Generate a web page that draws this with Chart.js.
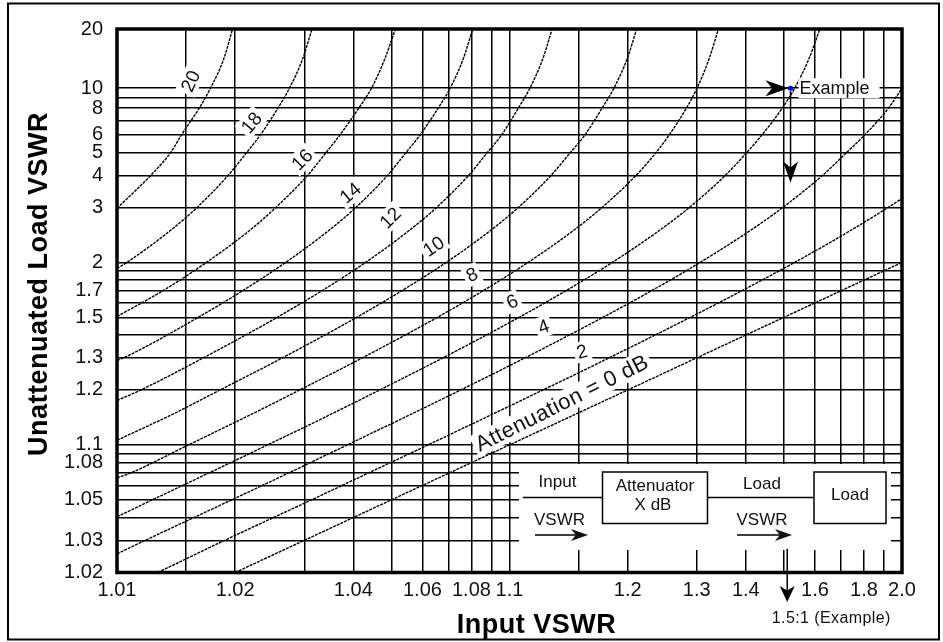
<!DOCTYPE html>
<html>
<head>
<meta charset="utf-8">
<title>Input VSWR vs Unattenuated Load VSWR</title>
<script src="https://cdn.jsdelivr.net/npm/chart.js@4.4.1/dist/chart.umd.min.js"></script>
<style>
html, body { margin: 0; padding: 0; background: #ffffff; }
canvas { display: block; }
</style>
</head>
<body>
<canvas id="chart" width="943" height="642"></canvas>
<script>
// ---------- axis grid values and tick labels (VSWR) ----------
const inputVswrGrid = [1.01, 1.015, 1.02, 1.03, 1.04, 1.05, 1.06, 1.07, 1.08, 1.09, 1.1, 1.15, 1.2, 1.3, 1.4, 1.5, 1.6, 1.7, 1.8, 1.9, 2.0];
const inputVswrTickLabels = ['1.01', '1.02', '1.04', '1.06', '1.08', '1.1', '1.2', '1.3', '1.4', '1.6', '1.8', '2.0'];
const loadVswrGrid = [1.02, 1.03, 1.04, 1.05, 1.06, 1.07, 1.08, 1.09, 1.1, 1.2, 1.3, 1.4, 1.5, 1.6, 1.7, 1.8, 1.9, 2, 3, 4, 5, 6, 7, 8, 9, 10, 20];
const loadVswrTickLabels = ['1.02', '1.03', '1.05', '1.08', '1.1', '1.2', '1.3', '1.5', '1.7', '2', '3', '4', '5', '6', '8', '10', '20'];

// ---------- constant-attenuation curves ----------
const attenuationDb = [0, 2, 4, 6, 8, 10, 12, 14, 16, 18, 20];

const atten0Input = [1.02, 1.05, 1.1, 1.2, 1.5, 2.0];
const atten0Load  = [1.02, 1.05, 1.1, 1.2, 1.5, 2.0];

const atten2Input = [1.0127, 1.0188, 1.0313, 1.0436, 1.0620, 1.0921, 1.1217, 1.1794, 1.2888, 1.3911, 1.5327, 1.7413, 1.9218, 2.0];
const atten2Load  = [1.02, 1.03, 1.05, 1.07, 1.1, 1.15, 1.2, 1.3, 1.5, 1.7, 2.0, 2.5, 3.0, 3.24];

const atten4Input = [1.0100, 1.0118, 1.0196, 1.0273, 1.0386, 1.0571, 1.0751, 1.1095, 1.1730, 1.2302, 1.3060, 1.4115, 1.4970, 1.6277, 1.7227, 1.8040, 1.9236, 2.0];
const atten4Load  = [1.0253, 1.03, 1.05, 1.07, 1.1, 1.15, 1.2, 1.3, 1.5, 1.7, 2.0, 2.5, 3.0, 4.0, 5.0, 6.0, 8.0, 10.0];

const atten6Input = [1.0100, 1.0123, 1.0171, 1.0242, 1.0357, 1.0467, 1.0677, 1.1058, 1.1393, 1.1828, 1.2413, 1.2873, 1.3549, 1.4023, 1.4400, 1.4953, 1.5328, 1.5789, 1.6177];
const atten6Load  = [1.0404, 1.05, 1.07, 1.1, 1.15, 1.2, 1.3, 1.5, 1.7, 2.0, 2.5, 3.0, 4.0, 5.0, 6.0, 8.0, 10.0, 14.0, 20.0];

const atten8Input = [1.0100, 1.0108, 1.0152, 1.0224, 1.0292, 1.0422, 1.0655, 1.0857, 1.1115, 1.1458, 1.1721, 1.2102, 1.2363, 1.2553, 1.2823, 1.3004, 1.3223, 1.3407];
const atten8Load  = [1.066, 1.07, 1.1, 1.15, 1.2, 1.3, 1.5, 1.7, 2.0, 2.5, 3.0, 4.0, 5.0, 6.0, 8.0, 10.0, 14.0, 20.0];

const atten10Input = [1.0100, 1.0141, 1.0183, 1.0264, 1.0408, 1.0532, 1.0690, 1.0896, 1.1053, 1.1277, 1.1429, 1.1557, 1.1721, 1.1845, 1.1993, 1.2109];
const atten10Load  = [1.106, 1.15, 1.2, 1.3, 1.5, 1.7, 2.0, 2.5, 3.0, 4.0, 5.0, 6.0, 8.0, 10.0, 14.0, 20.0];

const atten12Input = [1.0100, 1.0115, 1.0166, 1.0256, 1.0333, 1.0430, 1.0556, 1.0652, 1.0787, 1.0878, 1.0955, 1.1053, 1.1127, 1.1215, 1.1284];
const atten12Load  = [1.175, 1.2, 1.3, 1.5, 1.7, 2.0, 2.5, 3.0, 4.0, 5.0, 6.0, 8.0, 10.0, 14.0, 20.0];

const atten14Input = [1.0100, 1.0104, 1.0161, 1.0209, 1.0269, 1.0347, 1.0406, 1.0489, 1.0545, 1.0592, 1.0658, 1.0706, 1.0762, 1.0806];
const atten14Load  = [1.29, 1.3, 1.5, 1.7, 2.0, 2.5, 3.0, 4.0, 5.0, 6.0, 8.0, 10.0, 14.0, 20.0];

const atten16Input = [1.0100, 1.0131, 1.0169, 1.0218, 1.0254, 1.0306, 1.0341, 1.0370, 1.0413, 1.0445, 1.0481, 1.0512];
const atten16Load  = [1.505, 1.7, 2.0, 2.5, 3.0, 4.0, 5.0, 6.0, 8.0, 10.0, 14.0, 20.0];

const atten18Input = [1.0100, 1.0106, 1.0137, 1.0160, 1.0192, 1.0214, 1.0232, 1.0257, 1.0275, 1.0297, 1.0314];
const atten18Load  = [1.925, 2.0, 2.5, 3.0, 4.0, 5.0, 6.0, 8.0, 10.0, 14.0, 20.0];

const atten20Input = [1.0100, 1.0112, 1.0122, 1.0137, 1.0146, 1.0162, 1.0173, 1.0187, 1.0197];
const atten20Load  = [2.98, 3.5, 4.0, 5.0, 6.0, 8.0, 10.0, 14.0, 20.0];

// ---------- curve labels (anchor in VSWR coordinates) ----------
const curveLabelText  = ['20', '18', '16', '14', '12', '10', '8', '6', '4', '2', 'Attenuation = 0 dB'];
const curveLabelInput = [1.0154, 1.0220, 1.0296, 1.0393, 1.0497, 1.0641, 1.0802, 1.1015, 1.1222, 1.1531, 1.1360];
const curveLabelLoad  = [10.85, 6.83, 4.66, 3.40, 2.755, 2.225, 1.856, 1.610, 1.445, 1.3245, 1.1697];

// ---------- worked example ----------
const exampleInput = [1.52];
const exampleLoad  = [10];
const exampleArrowEndLoad = 3.74;
const exampleAxisInput = 1.51;

// ======================================================================
const FONT = "'Liberation Sans', Arial, Helvetica, sans-serif";
const labelAngles  = [-65, -50, -45, -40, -45, -35, -25, -25, -20, -15, -26.6];
const labelSizes   = [19, 19, 19, 19, 19, 19, 19, 19, 19, 19, 22];
const labelSpacing = [0, 0, 0, 0, 0, 0, 0, 0, 0, 0, 0.5];

const curveInputs = [atten0Input, atten2Input, atten4Input, atten6Input, atten8Input, atten10Input,
                     atten12Input, atten14Input, atten16Input, atten18Input, atten20Input];
const curveLoads  = [atten0Load, atten2Load, atten4Load, atten6Load, atten8Load, atten10Load,
                     atten12Load, atten14Load, atten16Load, atten18Load, atten20Load];

function labelFor(list, v) {
  const s = v + 1;
  const hit = list.find(t => Math.abs(parseFloat(t) - s) < 1e-6);
  return hit === undefined ? '' : hit;
}

const datasets = attenuationDb.map((db, i) => ({
  label: db + ' dB',
  data: curveInputs[i].map((v, j) => ({ x: v - 1, y: curveLoads[i][j] - 1 })),
  borderColor: '#000000',
  borderWidth: 1.4,
  borderDash: [3, 1],
  pointRadius: 0,
  fill: false,
  cubicInterpolationMode: 'monotone'
}));
datasets.push({
  label: 'Example',
  data: exampleInput.map((v, j) => ({ x: v - 1, y: exampleLoad[j] - 1 })),
  showLine: false,
  pointRadius: 2.5,
  pointBackgroundColor: '#0000ff',
  pointBorderColor: '#0000ff',
  pointBorderWidth: 0
});

function arrowHead(ctx, tipX, tipY, dx, dy, len, half) {
  const px = -dy, py = dx;
  const bx = tipX - dx * len, by = tipY - dy * len;
  const nx = tipX - dx * len * 0.72, ny = tipY - dy * len * 0.72;
  ctx.beginPath();
  ctx.moveTo(tipX, tipY);
  ctx.lineTo(bx + px * half, by + py * half);
  ctx.lineTo(nx, ny);
  ctx.lineTo(bx - px * half, by - py * half);
  ctx.closePath();
  ctx.fill();
}

function boxedText(ctx, text, x, y, angle, size, spacing) {
  ctx.save();
  ctx.translate(x, y);
  ctx.rotate(angle * Math.PI / 180);
  ctx.font = size + 'px ' + FONT;
  ctx.letterSpacing = spacing + 'px';
  const w = ctx.measureText(text).width;
  const h = size * 0.78;
  ctx.fillStyle = '#ffffff';
  ctx.fillRect(-w / 2 - 3, -h / 2 - 3, w + 6, h + 6);
  ctx.fillStyle = '#111111';
  ctx.textAlign = 'center';
  ctx.textBaseline = 'middle';
  ctx.fillText(text, 0, 1);
  ctx.restore();
}

const decorPlugin = {
  id: 'decor',
  beforeDraw(chart) {
    const ctx = chart.ctx;
    ctx.save();
    ctx.fillStyle = '#ffffff';
    ctx.fillRect(0, 0, chart.width, chart.height);
    ctx.strokeStyle = '#000000';
    ctx.lineWidth = 2;
    ctx.strokeRect(8, 3.5, 931, 636);
    ctx.restore();
  },
  afterDatasetsDraw(chart) {
    const { ctx, chartArea: ca, scales } = chart;
    const X = v => scales.x.getPixelForValue(v - 1);
    const Y = v => scales.y.getPixelForValue(v - 1);
    ctx.save();

    // ---- inset block diagram ----
    ctx.fillStyle = '#ffffff';
    ctx.fillRect(519, 464, 372, 86);
    ctx.strokeStyle = '#000000';
    ctx.fillStyle = '#111111';
    ctx.lineWidth = 1.5;
    ctx.beginPath();
    ctx.moveTo(523, 497.5); ctx.lineTo(602.5, 497.5);
    ctx.moveTo(707.5, 497.5); ctx.lineTo(814, 497.5);
    ctx.stroke();
    ctx.strokeRect(602.5, 472, 105, 51.5);
    ctx.strokeRect(814, 472, 72, 51.5);
    ctx.font = '17px ' + FONT;
    ctx.textAlign = 'center';
    ctx.textBaseline = 'middle';
    ctx.fillText('Input', 557.5, 482.5);
    ctx.fillText('Attenuator', 655, 486.5);
    ctx.fillText('X dB', 653, 505.5);
    ctx.fillText('Load', 762, 484);
    ctx.fillText('Load', 850, 495.5);
    ctx.fillText('VSWR', 559.5, 520.5);
    ctx.fillText('VSWR', 762, 520.5);
    ctx.beginPath();
    ctx.moveTo(535, 535); ctx.lineTo(578, 535);
    ctx.moveTo(737, 535); ctx.lineTo(782, 535);
    ctx.stroke();
    arrowHead(ctx, 588, 535, 1, 0, 17, 6);
    arrowHead(ctx, 792, 535, 1, 0, 17, 6);

    // ---- curve labels ----
    curveLabelText.forEach((t, i) => {
      boxedText(ctx, t, X(curveLabelInput[i]), Y(curveLabelLoad[i]), labelAngles[i], labelSizes[i], labelSpacing[i]);
    });

    // ---- worked example ----
    const ex = X(exampleInput[0]), ey = Y(exampleLoad[0]);
    ctx.fillStyle = '#ffffff';
    ctx.fillRect(ex + 8, ey - 10, 81, 20);
    ctx.fillStyle = '#111111';
    ctx.font = '18px ' + FONT;
    ctx.textAlign = 'left';
    ctx.textBaseline = 'middle';
    ctx.fillText('Example', ex + 9, ey + 1);
    ctx.fillStyle = '#000000';
    arrowHead(ctx, ex - 2, ey, 1, 0, 23, 8);
    const ay = Y(exampleArrowEndLoad);
    ctx.strokeStyle = '#000000';
    ctx.lineWidth = 1.5;
    ctx.beginPath();
    ctx.moveTo(ex, ey + 3); ctx.lineTo(ex, ay - 12);
    ctx.stroke();
    arrowHead(ctx, ex, ay, 0, 1, 21, 7.5);
    ctx.fillStyle = '#0000ff';
    ctx.beginPath(); ctx.arc(ex, ey, 2.2, 0, Math.PI * 2); ctx.fill();
    ctx.restore();
  },
  afterDraw(chart) {
    const { ctx, chartArea: ca, scales } = chart;
    const X = v => scales.x.getPixelForValue(v - 1);
    const Y = v => scales.y.getPixelForValue(v - 1);
    ctx.save();
    // plot frame
    ctx.strokeStyle = '#000000';
    ctx.lineWidth = 3.5;
    ctx.strokeRect(ca.left, ca.top, ca.right - ca.left, ca.bottom - ca.top);

    // example arrow below the axis
    const bx = X(exampleAxisInput);
    ctx.lineWidth = 1.5;
    ctx.beginPath();
    ctx.moveTo(bx, Y(1.027)); ctx.lineTo(bx, ca.bottom + 20);
    ctx.stroke();
    ctx.fillStyle = '#000000';
    arrowHead(ctx, bx, ca.bottom + 29.5, 0, 1, 16, 7.5);
    ctx.fillStyle = '#111111';
    ctx.font = '16px ' + FONT;
    ctx.letterSpacing = '0.4px';
    ctx.textAlign = 'center';
    ctx.textBaseline = 'middle';
    ctx.fillText('1.5:1 (Example)', bx + 44, ca.bottom + 46);

    // axis titles
    ctx.font = 'bold 27px ' + FONT;
    ctx.letterSpacing = '0.5px';
    ctx.fillStyle = '#000000';
    ctx.textAlign = 'center';
    ctx.textBaseline = 'alphabetic';
    ctx.fillText('Input VSWR', (ca.left + ca.right) / 2 + 27, ca.bottom + 60.5);
    ctx.translate(46.5, 284);
    ctx.rotate(-Math.PI / 2);
    ctx.fillText('Unattenuated Load VSWR', 0, 0);
    ctx.restore();
  }
};

new Chart(document.getElementById('chart'), {
  type: 'line',
  data: { datasets },
  plugins: [decorPlugin],
  options: {
    responsive: false,
    animation: false,
    devicePixelRatio: 1,
    layout: { padding: { left: 0, right: 41, top: 29, bottom: 0 } },
    plugins: { legend: { display: false }, tooltip: { enabled: false } },
    scales: {
      x: {
        type: 'logarithmic',
        min: 0.01,
        max: 1,
        afterBuildTicks: s => { s.ticks = inputVswrGrid.map(v => ({ value: v - 1 })); },
        afterFit: s => { s.height = 69.5; },
        ticks: {
          autoSkip: false, maxRotation: 0, minRotation: 0, padding: 6,
          color: '#111111',
          font: { family: FONT, size: 20 },
          callback: v => labelFor(inputVswrTickLabels, v)
        },
        grid: { color: '#000000', lineWidth: 1.5, drawTicks: false },
        border: { display: false }
      },
      y: {
        type: 'logarithmic',
        min: 0.02,
        max: 19,
        afterBuildTicks: s => { s.ticks = loadVswrGrid.map(v => ({ value: v - 1 })); },
        afterFit: s => { s.width = 117; },
        ticks: {
          autoSkip: false, padding: 14,
          color: '#111111',
          font: { family: FONT, size: 20 },
          callback: v => labelFor(loadVswrTickLabels, v)
        },
        grid: { color: '#000000', lineWidth: 1.5, drawTicks: false },
        border: { display: false }
      }
    }
  }
});
</script>
</body>
</html>
